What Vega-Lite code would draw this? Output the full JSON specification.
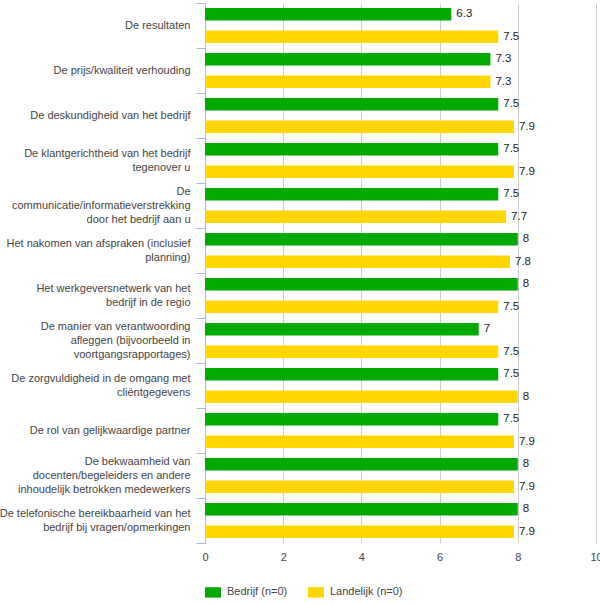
{
  "$schema": "https://vega.github.io/schema/vega-lite/v6.json",
  "autosize": {"type": "none"},
  "width": 391,
  "height": 540,
  "padding": {"left": 205, "top": 3, "right": 4, "bottom": 61},
  "background": "white",
  "config": {
    "font": "Liberation Sans",
    "view": {"stroke": null}
  },
  "data": {
    "values": [
      {"item": "De resultaten", "serie": "Bedrijf (n=0)", "value": 6.3},
      {"item": "De resultaten", "serie": "Landelijk (n=0)", "value": 7.5},
      {"item": "De prijs/kwaliteit verhouding", "serie": "Bedrijf (n=0)", "value": 7.3},
      {"item": "De prijs/kwaliteit verhouding", "serie": "Landelijk (n=0)", "value": 7.3},
      {"item": "De deskundigheid van het bedrijf", "serie": "Bedrijf (n=0)", "value": 7.5},
      {"item": "De deskundigheid van het bedrijf", "serie": "Landelijk (n=0)", "value": 7.9},
      {"item": "De klantgerichtheid van het bedrijf|tegenover u", "serie": "Bedrijf (n=0)", "value": 7.5},
      {"item": "De klantgerichtheid van het bedrijf|tegenover u", "serie": "Landelijk (n=0)", "value": 7.9},
      {"item": "De|communicatie/informatieverstrekking|door het bedrijf aan u", "serie": "Bedrijf (n=0)", "value": 7.5},
      {"item": "De|communicatie/informatieverstrekking|door het bedrijf aan u", "serie": "Landelijk (n=0)", "value": 7.7},
      {"item": "Het nakomen van afspraken (inclusief|planning)", "serie": "Bedrijf (n=0)", "value": 8},
      {"item": "Het nakomen van afspraken (inclusief|planning)", "serie": "Landelijk (n=0)", "value": 7.8},
      {"item": "Het werkgeversnetwerk van het|bedrijf in de regio", "serie": "Bedrijf (n=0)", "value": 8},
      {"item": "Het werkgeversnetwerk van het|bedrijf in de regio", "serie": "Landelijk (n=0)", "value": 7.5},
      {"item": "De manier van verantwoording|afleggen (bijvoorbeeld in|voortgangsrapportages)", "serie": "Bedrijf (n=0)", "value": 7},
      {"item": "De manier van verantwoording|afleggen (bijvoorbeeld in|voortgangsrapportages)", "serie": "Landelijk (n=0)", "value": 7.5},
      {"item": "De zorgvuldigheid in de omgang met|cliëntgegevens", "serie": "Bedrijf (n=0)", "value": 7.5},
      {"item": "De zorgvuldigheid in de omgang met|cliëntgegevens", "serie": "Landelijk (n=0)", "value": 8},
      {"item": "De rol van gelijkwaardige partner", "serie": "Bedrijf (n=0)", "value": 7.5},
      {"item": "De rol van gelijkwaardige partner", "serie": "Landelijk (n=0)", "value": 7.9},
      {"item": "De bekwaamheid van|docenten/begeleiders en andere|inhoudelijk betrokken medewerkers", "serie": "Bedrijf (n=0)", "value": 8},
      {"item": "De bekwaamheid van|docenten/begeleiders en andere|inhoudelijk betrokken medewerkers", "serie": "Landelijk (n=0)", "value": 7.9},
      {"item": "De telefonische bereikbaarheid van het|bedrijf bij vragen/opmerkingen", "serie": "Bedrijf (n=0)", "value": 8},
      {"item": "De telefonische bereikbaarheid van het|bedrijf bij vragen/opmerkingen", "serie": "Landelijk (n=0)", "value": 7.9}
    ]
  },
  "encoding": {
    "y": {
      "field": "item",
      "type": "nominal",
      "sort": null,
      "scale": {"paddingInner": 0, "paddingOuter": 0},
      "axis": {
        "title": null,
        "domain": true,
        "ticks": true,
        "tickBand": "extent",
        "tickSize": 9,
        "tickWidth": 1,
        "labelPadding": 6,
        "labelLimit": 300,
        "labelFontSize": 11,
        "labelColor": "#444444",
        "labelLineHeight": 14,
        "labelExpr": "split(datum.label, '|')",
        "labelOffset": {
          "condition": [
            {"test": "length(split(datum.label, '|')) == 3", "value": -14},
            {"test": "length(split(datum.label, '|')) == 2", "value": -7}
          ],
          "value": 0
        },
        "domainColor": "#a8b8d8",
        "tickColor": "#a8b8d8",
        "grid": false
      }
    },
    "yOffset": {
      "field": "serie",
      "type": "nominal",
      "sort": null,
      "scale": {"paddingInner": 0.444, "paddingOuter": 0.222}
    },
    "x": {
      "field": "value",
      "type": "quantitative",
      "scale": {"domain": [0, 10], "nice": false},
      "axis": {
        "title": null,
        "values": [0, 2, 4, 6, 8, 10],
        "domain": false,
        "ticks": false,
        "grid": true,
        "gridColor": "#cccccc",
        "labelPadding": 8,
        "labelFontSize": 11,
        "labelColor": "#444444",
        "labelFlush": false
      }
    }
  },
  "layer": [
    {
      "mark": {"type": "bar"},
      "encoding": {
        "color": {
          "field": "serie",
          "type": "nominal",
          "sort": null,
          "scale": {"domain": ["Bedrijf (n=0)", "Landelijk (n=0)"], "range": ["#00aa00", "#ffd700"]},
          "legend": {
            "title": null,
            "orient": "bottom",
            "direction": "horizontal",
            "offset": 22,
            "labelFontSize": 11,
            "labelColor": "#444444",
            "symbolType": "M-1,-0.65L1,-0.65L1,0.65L-1,0.65Z",
            "symbolSize": 256,
            "symbolStrokeWidth": 0,
            "symbolOpacity": 1,
            "labelOffset": 6,
            "columnPadding": 20
          }
        }
      }
    },
    {
      "mark": {"type": "text", "align": "left", "baseline": "middle", "dx": 5, "fontSize": 11.5, "color": "#222222"},
      "encoding": {
        "text": {"field": "value", "type": "quantitative", "format": ".1~f"}
      }
    }
  ]
}
